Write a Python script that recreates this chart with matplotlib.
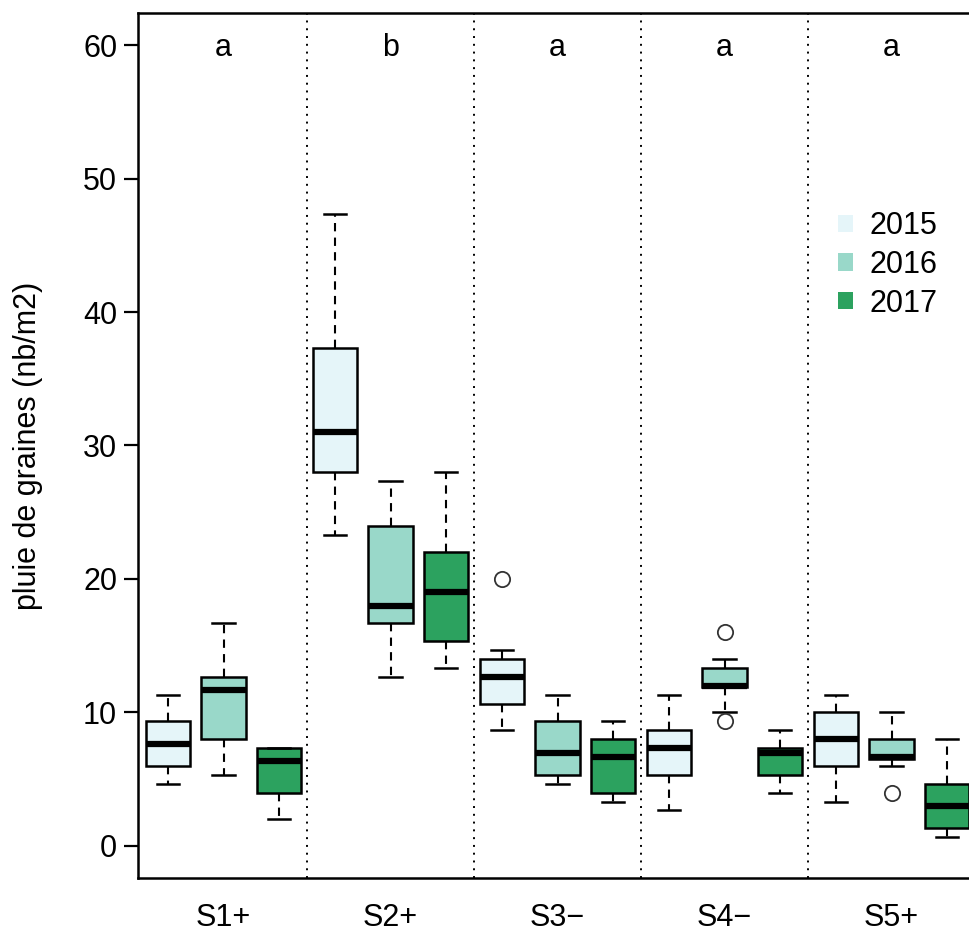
import matplotlib.pyplot as plt
from matplotlib.patches import Patch

plt.rcParams['font.family'] = ['Liberation Sans', 'DejaVu Sans']

# Data --------------
sites = ["S1+", "S2+", "S3−", "S4−", "S5+"]
years = ["2015", "2016", "2017"]
letters = ["a", "b", "a", "a", "a"]
colors = ["#E5F5F9", "#99D8C9", "#2CA25F"]

# per box, ordered site by site then year
whislo = [4.67, 5.33, 2.0,   23.33, 12.67, 13.33,  8.67, 4.67, 3.33,  2.67, 10.0, 4.0,   3.33, 6.0, 0.67]
q1     = [6.0,  8.0,  4.0,   28.0,  16.67, 15.33,  10.67, 5.33, 4.0,  5.33, 11.9, 5.33,  6.0,  6.5, 1.33]
med    = [7.67, 11.67, 6.33, 31.0,  18.0,  19.0,   12.67, 7.0, 6.67,  7.33, 12.0, 7.0,   8.0,  6.67, 3.0]
q3     = [9.33, 12.67, 7.33, 37.33, 24.0,  22.0,   14.0, 9.33, 8.0,   8.67, 13.33, 7.33, 10.0, 8.0, 4.67]
whishi = [11.33, 16.67, 7.33, 47.33, 27.33, 28.0,  14.67, 11.33, 9.33, 11.33, 14.0, 8.67, 11.33, 10.0, 8.0]
fliers = [[], [], [],  [], [], [],  [20.0], [], [],  [], [16.0, 9.33], [],  [], [4.0], []]

stats = []
for i in range(len(med)):
    stats.append(dict(whislo=whislo[i], q1=q1[i], med=med[i], q3=q3[i],
                      whishi=whishi[i], fliers=fliers[i]))

# Plot ---------------
fig = plt.figure(figsize=(9.69, 9.32), dpi=100)
ax = fig.add_axes([138/969, 54/932, 837/969, 865/932])

positions = list(range(1, len(med) + 1))
bp = ax.bxp(stats, positions=positions, widths=0.8, patch_artist=True,
            capwidths=0.4, showfliers=True,
            boxprops=dict(edgecolor="black", linewidth=1.8),
            medianprops=dict(color="black", linewidth=4.5, solid_capstyle="butt"),
            whiskerprops=dict(color="black", linewidth=1.5, linestyle=(0, (4, 3))),
            capprops=dict(color="black", linewidth=1.8),
            flierprops=dict(marker="o", markerfacecolor="none", markeredgecolor="#333333",
                            markersize=11, markeredgewidth=1.3))
for i, box in enumerate(bp["boxes"]):
    box.set_facecolor(colors[i % 3])

# separators between sites
for k in range(1, len(sites)):
    ax.axvline(3 * k + 0.5, color="black", linestyle=(0, (1, 3)), linewidth=1.4)

for k, lab in enumerate(letters):
    ax.text(3 * k + 2, 59.8, lab, ha="center", va="center", fontsize=22)

ax.set_xlim(0.464, 15.5)
ax.set_ylim(-2.4, 62.4)
ax.set_xticks([3 * k + 2 for k in range(len(sites))])
ax.set_xticklabels(sites, fontsize=22)
ax.tick_params(axis="x", length=0, pad=18)
ax.set_yticks(range(0, 61, 10))
ax.tick_params(axis="y", labelsize=22, length=10, width=1.6, pad=5)
ax.set_ylabel("pluie de graines (nb/m2)", fontsize=22)
ax.yaxis.set_label_coords(-0.1135, 0.5)
for s in ax.spines.values():
    s.set_linewidth(1.8)
ax.spines["right"].set_visible(False)

handles = [Patch(facecolor=c, edgecolor="none") for c in colors]
ax.legend(handles, years, loc="upper left", bbox_to_anchor=(810/969, 1 - 184/932),
          bbox_transform=fig.transFigure, frameon=False, fontsize=22,
          handlelength=0.5, handleheight=0.5, handletextpad=0.55, labelspacing=0.28)

plt.savefig("out.png", dpi=100)
